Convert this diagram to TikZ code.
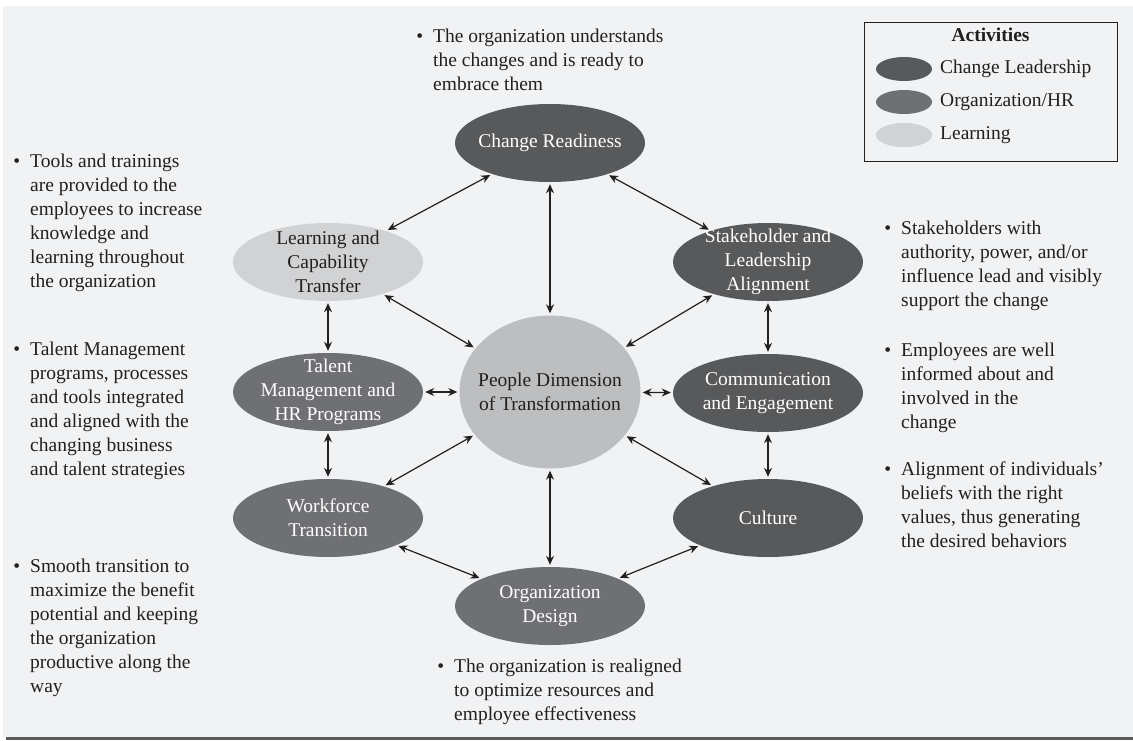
\documentclass[tikz,border=0pt]{standalone}
\usepackage{fontspec}
\setmainfont{Liberation Serif}
\usetikzlibrary{arrows.meta,shapes.geometric}
\definecolor{pagegray}{HTML}{F1F2F4}
\definecolor{leadgray}{HTML}{58595B}
\definecolor{hrgray}{HTML}{6F7073}
\definecolor{learngray}{HTML}{D1D2D4}
\definecolor{coregray}{HTML}{BCBEC0}
\definecolor{inkblack}{HTML}{231F20}
\newcommand{\bodyfont}{\fontsize{19.5}{24}\selectfont}
\newcommand{\bul}{\llap{\textbullet\hspace{10pt}}}
\tikzset{
  oval/.style={ellipse, minimum width=190pt, minimum height=78pt, inner sep=-40pt,
               align=center, text=white, font=\bodyfont},
  ovallead/.style={oval, fill=leadgray},
  ovalhr/.style={oval, fill=hrgray},
  ovallearn/.style={oval, fill=learngray, text=inkblack},
  ovalcore/.style={oval, fill=coregray, text=inkblack, minimum width=181pt, minimum height=153pt},
  note/.style={anchor=north west, inner sep=0pt, align=left, font=\bodyfont, text=inkblack},
  legkey/.style={ellipse, minimum width=56pt, minimum height=24pt, inner sep=0pt},
  legtext/.style={anchor=west, inner sep=0pt, font=\bodyfont, text=inkblack},
  link/.style={{Stealth[length=9pt,width=8pt]}-{Stealth[length=9pt,width=8pt]}, line width=1.2pt,
               inkblack, shorten <=2pt, shorten >=2pt},
}
\begin{document}
\begin{tikzpicture}[x=1pt,y=-1pt]
\useasboundingbox (0,0) rectangle (1133,740);
\fill[pagegray] (3,6) rectangle (1133,737);
\fill[leadgray] (6,737) rectangle (1133,740);

% activity ovals
\node[ovalcore] (people) at (550,392) {People Dimension\\of Transformation};
\node[ovallead] (ready) at (550,143) {Change Readiness};
\node[ovallearn] (learn) at (328,262) {Learning and\\Capability\\Transfer};
\node[ovallead] (stake) at (768,262) {Stakeholder and\\Leadership\\Alignment};
\node[ovalhr] (talent) at (328,392) {Talent\\Management and\\HR Programs};
\node[ovallead] (comm) at (768,393) {Communication\\and Engagement};
\node[ovalhr] (work) at (328,518) {Workforce\\Transition};
\node[ovallead] (culture) at (768,518) {Culture};
\node[ovalhr] (orgdes) at (550,606) {Organization\\Design};

\foreach \a/\b in {ready/learn, ready/stake, ready/people, learn/people, stake/people,
                   learn/talent, stake/comm, talent/people, comm/people, talent/work,
                   comm/culture, work/people, culture/people, work/orgdes, culture/orgdes,
                   orgdes/people}
  \draw[link] (\a) -- (\b);

% descriptions
\node[note] (readynote) at (433,29) {\bul The organization understands\\the changes and is ready to\\embrace them};
\node[note] (learnnote) at (30,154) {\bul Tools and trainings\\are provided to the\\employees to increase\\knowledge and\\learning throughout\\the organization};
\node[note] (talentnote) at (30,342) {\bul Talent Management\\programs, processes\\and tools integrated\\and aligned with the\\changing business\\and talent strategies};
\node[note] (worknote) at (30,559) {\bul Smooth transition to\\maximize the benefit\\potential and keeping\\the organization\\productive along the\\way};
\node[note] (stakenote) at (901,221) {\bul Stakeholders with\\authority, power, and/or\\influence lead and visibly\\support the change};
\node[note] (commnote) at (901,343) {\bul Employees are well\\informed about and\\involved in the\\change};
\node[note] (culturenote) at (901,462) {\bul Alignment of individuals'\\beliefs with the right\\values, thus generating\\the desired behaviors};
\node[note] (orgdesnote) at (454,659) {\bul The organization is realigned\\to optimize resources and\\employee effectiveness};

% legend
\node[draw=inkblack, line width=1pt, anchor=north west, minimum width=253pt, minimum height=139pt,
      inner sep=0pt] (legend) at (864,22) {};
\node[font=\bodyfont\bfseries, text=inkblack, inner sep=0pt] (legtitle) at (990.5,35) {Activities};
\node[legkey, fill=leadgray] (keylead) at (904,69) {};
\node[legkey, fill=hrgray] (keyhr) at (904,102) {};
\node[legkey, fill=learngray] (keylearn) at (904,135) {};
\node[legtext] at (940,69) {Change Leadership};
\node[legtext] at (940,102) {Organization/HR};
\node[legtext] at (940,135) {Learning};
\end{tikzpicture}
\end{document}
